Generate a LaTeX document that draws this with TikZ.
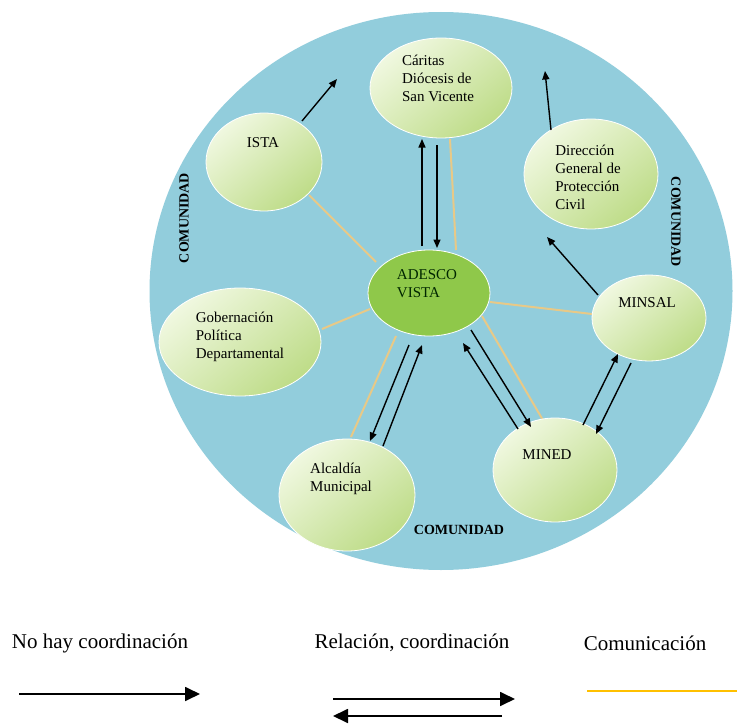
\documentclass[tikz,border=0pt]{standalone}
\usepackage{fontspec}
\setmainfont{Liberation Serif}
\usetikzlibrary{arrows.meta,shapes.geometric}
\definecolor{circblue}{HTML}{92CDDC}
\definecolor{palegreen}{HTML}{F0F8E0}
\definecolor{midgreen}{HTML}{BEDC88}
\definecolor{adesco}{HTML}{8FC84A}
\definecolor{commline}{HTML}{E8C987}
\definecolor{legyellow}{HTML}{FFC000}
\tikzset{
  org/.style={ellipse, draw=white, line width=0.8pt, inner sep=0pt,
    top color=palegreen, bottom color=midgreen, shading angle=40},
  lbl/.style={align=left, inner sep=0pt, font=\fontsize{15}{18}\selectfont},
  comu/.style={inner sep=0pt, font=\fontsize{14}{16}\selectfont\bfseries},
  arr/.style={line width=1.4pt, -{Triangle[length=8.5pt,width=7pt]}},
  comm/.style={commline, line width=2pt},
  legtxt/.style={inner sep=0pt, font=\fontsize{21}{25}\selectfont},
  legarr/.style={line width=1.8pt, -{Triangle[length=15pt,width=14pt]}}
}
\begin{document}
\begin{tikzpicture}[x=1pt,y=-1pt]
\useasboundingbox (0,0) rectangle (737,725);
\fill[white] (0,0) rectangle (737,725);
% big circle
\node[ellipse, fill=circblue, minimum width=583pt, minimum height=558pt, inner sep=0pt] (circ) at (441,291) {};
% community labels
\node[comu, rotate=90] (comL) at (184,218) {COMUNIDAD};
\node[comu, rotate=-90] (comR) at (676,222) {COMUNIDAD};
\node[comu] (comB) at (459,530) {COMUNIDAD};
% coordinates for connectors
\coordinate (istaA) at (302,121);  \coordinate (istaB) at (337,79);
\coordinate (carU1) at (422,246);  \coordinate (carU2) at (422,139);
\coordinate (carD1) at (437,145);  \coordinate (carD2) at (437,248);
\coordinate (carY1) at (450,139);  \coordinate (carY2) at (456,250);
\coordinate (dirA) at (551,130);   \coordinate (dirB) at (545,71);
\coordinate (msA) at (598,295);    \coordinate (msB) at (547,237);
\coordinate (istY1) at (309,195);  \coordinate (istY2) at (376,262);
\coordinate (gobY1) at (322,329);  \coordinate (gobY2) at (370,309);
\coordinate (msY1) at (490,302);   \coordinate (msY2) at (592,314);
\coordinate (alY1) at (396,336);   \coordinate (alY2) at (351,437);
\coordinate (alD1) at (409,345);   \coordinate (alD2) at (370,441);
\coordinate (alU1) at (383,446);   \coordinate (alU2) at (422,345);
\coordinate (mnU1) at (518,429);   \coordinate (mnU2) at (463,343);
\coordinate (mnD1) at (471,330);   \coordinate (mnD2) at (531,427);
\coordinate (mnY1) at (482,316);   \coordinate (mnY2) at (547,427);
\coordinate (mmU1) at (583,425);   \coordinate (mmU2) at (618,354);
\coordinate (mmD1) at (631,363);   \coordinate (mmD2) at (596,434);
% communication lines (behind ellipses)
\draw[comm] (carY1) -- (carY2);
\draw[comm] (istY1) -- (istY2);
\draw[comm] (gobY1) -- (gobY2);
\draw[comm] (msY1) -- (msY2);
\draw[comm] (alY1) -- (alY2);
\draw[comm] (mnY1) -- (mnY2);
% ellipses
\node[org, minimum width=142pt, minimum height=100pt] (car) at (441,88) {};
\node[org, minimum width=116pt, minimum height=98pt] (ista) at (264,162) {};
\node[org, minimum width=134pt, minimum height=110pt] (dir) at (591,174) {};
\node[ellipse, draw=white, line width=0.8pt, inner sep=0pt, fill=adesco, minimum width=122pt, minimum height=86pt] (ade) at (429,293) {};
\node[org, minimum width=162pt, minimum height=108pt] (gob) at (240,342) {};
\node[org, minimum width=114pt, minimum height=86pt] (msl) at (649,318) {};
\node[org, minimum width=124pt, minimum height=104pt] (mnd) at (555,470) {};
\node[org, minimum width=136pt, minimum height=112pt] (alc) at (347,495) {};
% labels
\node[lbl] (carT) at (438,78) {Cáritas\\Diócesis de\\San Vicente};
\node[lbl] (istaT) at (263,143) {ISTA};
\node[lbl] (dirT) at (588,177) {Dirección\\General de\\Protección\\Civil};
\node[lbl, text=black!85!green] (adeT) at (427,284) {ADESCO\\VISTA};
\node[lbl] (gobT) at (240,337) {Gobernación\\Política\\Departamental};
\node[lbl] (mslT) at (647,303) {MINSAL};
\node[lbl] (mndT) at (547,455) {MINED};
\node[lbl] (alcT) at (341,479) {Alcaldía\\Municipal};
% arrows
\draw[arr] (istaA) -- (istaB);
\draw[arr] (carU1) -- (carU2);
\draw[arr] (carD1) -- (carD2);
\draw[arr] (dirA) -- (dirB);
\draw[arr] (msA) -- (msB);
\draw[arr] (alD1) -- (alD2);
\draw[arr] (alU1) -- (alU2);
\draw[arr] (mnU1) -- (mnU2);
\draw[arr] (mnD1) -- (mnD2);
\draw[arr] (mmU1) -- (mmU2);
\draw[arr] (mmD1) -- (mmD2);
% legend
\node[legtxt] (lg1) at (100,643) {No hay coordinación};
\node[legtxt] (lg2) at (412,643) {Relación, coordinación};
\node[legtxt] (lg3) at (645,643) {Comunicación};
\coordinate (l1a) at (19,694);  \coordinate (l1b) at (200,694);
\coordinate (l2a) at (333,699); \coordinate (l2b) at (515,699);
\coordinate (l3a) at (502,716); \coordinate (l3b) at (333,716);
\coordinate (l4a) at (587,691); \coordinate (l4b) at (737,691);
\draw[legarr] (l1a) -- (l1b);
\draw[legarr] (l2a) -- (l2b);
\draw[legarr] (l3a) -- (l3b);
\draw[legyellow, line width=2.2pt] (l4a) -- (l4b);
\end{tikzpicture}
\end{document}
